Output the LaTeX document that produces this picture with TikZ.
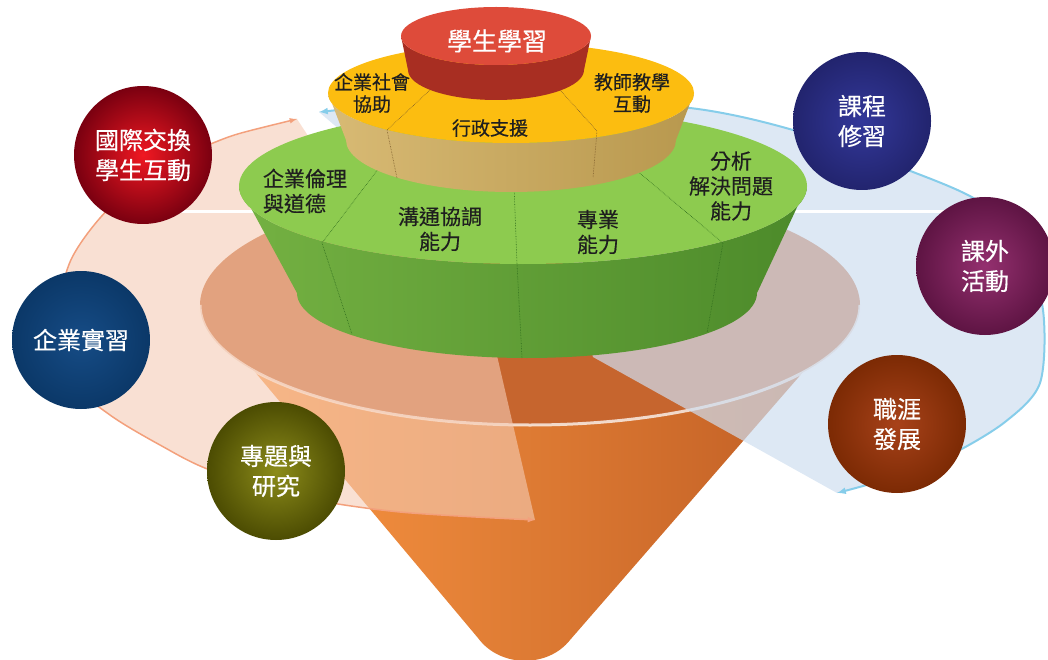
\documentclass[tikz,border=0pt]{standalone}
\usepackage{fontspec}
\usepackage{tikz}
\usetikzlibrary{arrows.meta, calc}
\usepackage{xcolor}
\newfontfamily\cjk[FakeBold=0.4]{Noto Sans CJK TC}
% Colori
\definecolor{aranChiaro}{HTML}{FF9B45}
\definecolor{aranMedio}{HTML}{EC7E36}
\definecolor{aranScuro}{HTML}{BC5A22}
\definecolor{aranInterno}{HTML}{C6652E}
\definecolor{pesca}{HTML}{F5CCB5}
\definecolor{azzurrino}{HTML}{CFDEF0}
\definecolor{arcoArancio}{HTML}{F3A07C}
\definecolor{celeste}{HTML}{86CDEA}
\definecolor{verdeTop}{HTML}{8DCB4F}
\definecolor{verdeLatoC}{HTML}{74B142}
\definecolor{verdeLatoS}{HTML}{4C8A2A}
\definecolor{verdeScuro}{HTML}{2E6B1C}
\definecolor{gialloTop}{HTML}{FCBD10}
\definecolor{gialloLatoC}{HTML}{D8BA74}
\definecolor{gialloLatoS}{HTML}{B8984E}
\definecolor{marrone}{HTML}{7A5A2A}
\definecolor{rossoTop}{HTML}{DE4B3A}
\definecolor{rossoLatoC}{HTML}{CB3F2E}
\definecolor{rossoLatoS}{HTML}{A82E22}
\definecolor{scambioC}{HTML}{F01822}
\definecolor{scambioS}{HTML}{7A0010}
\definecolor{tirocinioC}{HTML}{164C86}
\definecolor{tirocinioS}{HTML}{0B3868}
\definecolor{ricercaC}{HTML}{8C8C1A}
\definecolor{ricercaS}{HTML}{4C4C02}
\definecolor{corsiC}{HTML}{33389A}
\definecolor{corsiS}{HTML}{22246E}
\definecolor{attivitaC}{HTML}{94306F}
\definecolor{attivitaS}{HTML}{5E1443}
\definecolor{carrieraC}{HTML}{A8421A}
\definecolor{carrieraS}{HTML}{7C2A04}

\begin{document}
\begin{tikzpicture}[x=1pt, y=-1pt,
    testo/.style={font=\cjk\fontsize{21}{25}\selectfont, text=black!88, align=center, inner sep=0pt},
    testoY/.style={font=\cjk\fontsize{19}{22}\selectfont, text=black!88, align=center, inner sep=0pt},
    bolla/.style={circle, minimum size=138pt, inner sep=0pt, font=\cjk\fontsize{24}{30}\selectfont, text=white, align=center},
    divisoreG/.style={densely dotted, line width=0.6pt, color=verdeScuro},
    divisoreY/.style={densely dotted, line width=0.6pt, color=marrone}]
    \useasboundingbox (0,0) rectangle (1048,660);
    % Cono
    \shade[left color=aranChiaro, middle color=aranMedio, right color=aranScuro] (203,310) -- (478,638) .. controls (500,668) and (548,668) .. (570,640) -- (857,310) -- cycle;
    \fill[aranInterno] (530,305) ellipse[x radius=330, y radius=120];
    \draw[white, opacity=0.75, line width=3pt] (200,305) arc[start angle=180, end angle=0, x radius=330, y radius=120];
    % Settori trasparenti
    \fill[pesca, opacity=0.6] plot[smooth] coordinates {(297,119) (213,143) (140,182) (100,218) (70,262) (57,320) (68,378) (110,415) (160,445) (210,470) (300,497) (400,512) (535,520)} -- (498,360) -- (470,250) -- (330,150) -- (314,145) -- cycle;
    \fill[azzurrino, opacity=0.7] plot[smooth] coordinates {(319,112) (420,103) (540,100) (690,108) (793,130) (913,172) (980,202) (1022,245) (1043,310) (1040,383) (1005,422) (950,455) (890,478) (837,493)} -- (593,357) -- (560,250) -- (400,140) -- (340,130) -- cycle;
    \draw[white, line width=3pt] (106,212) -- (992,212);
    % Frecce circolari
    \draw[arcoArancio, line width=1.5pt, latex-latex] plot[smooth] coordinates {(297,119) (213,143) (140,182) (100,218) (70,262) (57,320) (68,378) (110,415) (160,445) (210,470) (300,497) (400,512) (535,520)};
    \draw[celeste, line width=2pt, latex-latex] plot[smooth] coordinates {(319,112) (420,103) (540,100) (690,108) (793,130) (913,172) (980,202) (1022,245) (1043,310) (1040,383) (1005,422) (950,455) (890,478) (837,493)};
    % Livello verde
    \shade[left color=verdeLatoC, right color=verdeLatoS] (239,186) -- (297,293) arc[start angle=180, end angle=0, x radius=230, y radius=65] -- (807,186) arc[start angle=0, end angle=180, x radius=284, y radius=78] -- cycle;
    \fill[verdeTop] (523,186) ellipse[x radius=284, y radius=78];
    \draw[divisoreG] (385,160) -- (322,243) -- (352,334);
    \draw[divisoreG] (514,185) -- (517,264) -- (522,358);
    \draw[divisoreG] (630,165) -- (723,243) -- (707,333);
    % Livello giallo
    \shade[left color=gialloLatoC, right color=gialloLatoS] (328,93) -- (346,140) arc[start angle=180, end angle=0, x radius=165, y radius=52] -- (694,93) arc[start angle=0, end angle=180, x radius=183, y radius=50] -- cycle;
    \fill[gialloTop] (511,93) ellipse[x radius=183, y radius=50];
    \draw[divisoreY] (430,90) -- (387,130) -- (397,178);
    \draw[divisoreY] (560,90) -- (597,131) -- (593,178);
    % Livello rosso
    \shade[left color=rossoLatoS, middle color=rossoLatoC, right color=rossoLatoS] (401,36) -- (408,70) arc[start angle=180, end angle=0, x radius=88, y radius=30] -- (591,36) arc[start angle=0, end angle=180, x radius=95, y radius=29] -- cycle;
    \fill[rossoTop] (496,36) ellipse[x radius=95, y radius=29];
    % Testi
    \node[testo, text=white, font=\cjk\fontsize{25}{28}\selectfont] (studenti) at (497,41) {學生學習};
    \node[testoY] (sociale) at (372,93) {企業社會\\協助};
    \node[testoY] (docenti) at (632,93) {教師教學\\互動};
    \node[testoY] (amministrazione) at (490,128) {行政支援};
    \node[testo, align=left] (etica) at (305,191) {企業倫理\\與道德};
    \node[testo] (comunicazione) at (440,229) {溝通協調\\能力};
    \node[testo] (professione) at (598,232) {專業\\能力};
    \node[testo] (analisi) at (731,186) {分析\\解決問題\\能力};
    % Bolle
    \node[bolla, inner color=scambioC, outer color=scambioS] (scambio) at (143,155) {國際交換\\學生互動};
    \node[bolla, inner color=tirocinioC, outer color=tirocinioS] (tirocinio) at (81,340) {企業實習};
    \node[bolla, inner color=ricercaC, outer color=ricercaS] (ricerca) at (276,471) {專題與\\研究};
    \node[bolla, inner color=corsiC, outer color=corsiS] (corsi) at (862,121) {課程\\修習};
    \node[bolla, inner color=attivitaC, outer color=attivitaS] (attivita) at (985,266) {課外\\活動};
    \node[bolla, inner color=carrieraC, outer color=carrieraS] (carriera) at (897,424) {職涯\\發展};
\end{tikzpicture}
\end{document}
